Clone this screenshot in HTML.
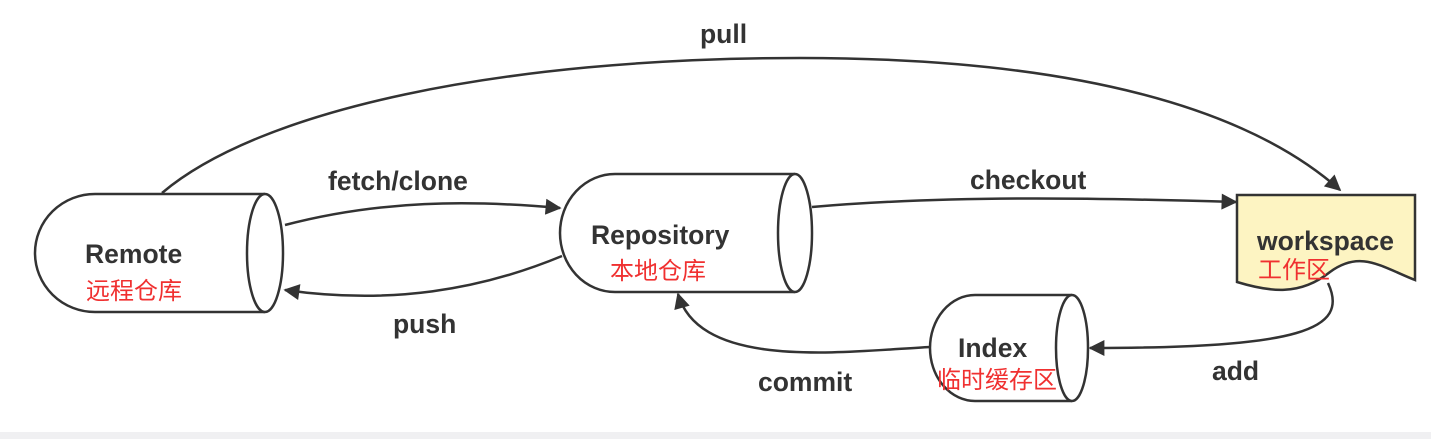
<!DOCTYPE html>
<html><head><style>
html,body{margin:0;padding:0;background:#fff;}
svg{display:block}
text{font-family:"Liberation Sans","Noto Sans CJK SC",sans-serif;}
.b{font-weight:bold;font-size:26.5px;fill:#333}
.r{font-size:24px;fill:#f03030}
</style></head><body>
<svg width="1431" height="439" viewBox="0 0 1431 439">
<defs><marker id="m" viewBox="0 0 10 10" refX="9" refY="5" markerWidth="20" markerHeight="16" orient="auto" markerUnits="userSpaceOnUse"><path d="M0,0 L10,5 L0,10 z" fill="#333"/></marker></defs>
<rect x="0" y="432" width="1431" height="7" fill="#f0f0f2"/>
<g fill="none" stroke="#333" stroke-width="2.5">
<path d="M162,193 C260,110 500,58 800,58 C1080,58 1250,110 1340,190" marker-end="url(#m)"/>
<path d="M285,225 C380,200 470,200 560,208" marker-end="url(#m)"/>
<path d="M562,256 C480,290 390,305 285,290" marker-end="url(#m)"/>
<path d="M812,207 C950,195 1100,198 1236,202" marker-end="url(#m)"/>
<path d="M1328,283 C1350,330 1300,348 1090,348" marker-end="url(#m)"/>
<path d="M930,347 C840,352 700,370 678,294" marker-end="url(#m)"/>
</g>
<g fill="#fff" stroke="#333" stroke-width="2.5">
<path d="M265,194 L95,194 A60,59 0 0 0 95,312 L265,312"/>
<ellipse cx="265" cy="253" rx="18" ry="59"/>
<path d="M795,174 L615,174 A55,59 0 0 0 615,292 L795,292"/>
<ellipse cx="795" cy="233" rx="17" ry="59"/>
<path d="M1072,295 L975,295 A45,53 0 0 0 975,401 L1072,401"/>
<ellipse cx="1072" cy="348" rx="16" ry="53"/>
<path d="M1237,195 L1415,195 L1415,280 C1380,266 1360,250 1330,272 C1300,296 1270,292 1237,282 Z" fill="#fdf4c2"/>
</g>
<text class="b" x="85" y="263">Remote</text>
<text class="r" x="86" y="299">远程仓库</text>
<text class="b" x="591" y="244">Repository</text>
<text class="r" x="610" y="279">本地仓库</text>
<text class="b" x="958" y="357">Index</text>
<text class="r" x="937" y="388">临时缓存区</text>
<text class="b" x="1257" y="250">workspace</text>
<text class="r" x="1258" y="278">工作区</text>
<text class="b" x="700" y="43">pull</text>
<text class="b" x="328" y="190">fetch/clone</text>
<text class="b" x="393" y="333">push</text>
<text class="b" x="970" y="189">checkout</text>
<text class="b" x="1212" y="380">add</text>
<text class="b" x="758" y="391">commit</text>
</svg>
</body></html>
